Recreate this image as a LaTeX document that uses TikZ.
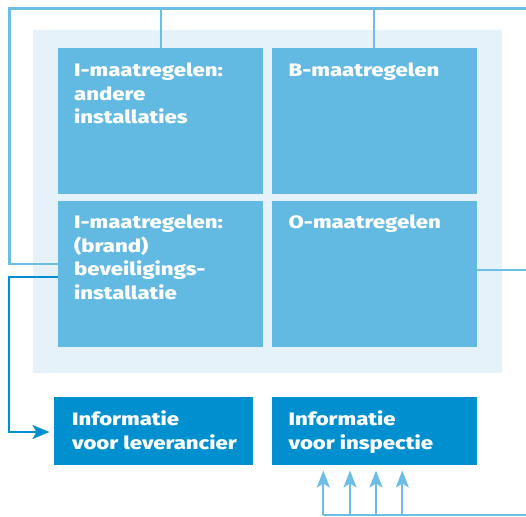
\documentclass[tikz,border=0pt]{standalone}
\usepackage{fontspec}
\usepackage{graphicx}
\setmainfont{Fira Sans}[BoldFont={Fira Sans ExtraBold}]
\usetikzlibrary{arrows.meta}
\definecolor{panelbg}{HTML}{E6F2F9}
\definecolor{boxblue}{HTML}{62B9E1}
\definecolor{darkblue}{HTML}{0090D0}
\definecolor{lineblue}{HTML}{6CBEE5}
\newcommand{\widetext}[1]{\scalebox{1.23}[1]{\fontsize{18}{23.6}\selectfont\bfseries
  \begin{tabular}[t]{@{}l@{}}#1\end{tabular}}}
\tikzset{
  mbox/.style={draw=none, inner sep=0, outer sep=0, anchor=north west},
  mtext/.style={anchor=base west, inner sep=0, text=white},
  lline/.style={draw=lineblue, line width=2.2pt},
  dline/.style={draw=darkblue, line width=2.2pt},
  ltip/.style={-{Stealth[length=17pt,width=13pt,inset=4pt]}},
}
\begin{document}
\begin{tikzpicture}[x=1pt,y=-1pt]
\useasboundingbox (0,0) rectangle (526,516);
% panel
\node[mbox, fill=panelbg, minimum width=469pt, minimum height=343pt] (panel) at (33,30) {};
% boxes
\node[mbox, fill=boxblue, minimum width=205pt, minimum height=146pt] (b1) at (58,48) {};
\node[mbox, fill=boxblue, minimum width=205pt, minimum height=146pt] (b2) at (272,48) {};
\node[mbox, fill=boxblue, minimum width=205pt, minimum height=146pt] (b3) at (58,201) {};
\node[mbox, fill=boxblue, minimum width=205pt, minimum height=146pt] (b4) at (272,201) {};
\node[mbox, fill=darkblue, minimum width=199pt, minimum height=68pt] (b5) at (54,396.5) {};
\node[mbox, fill=darkblue, minimum width=205pt, minimum height=68pt] (b6) at (272,396.5) {};
% texts
\node[mtext] (t1) at (74,76.5) {\widetext{I-maatregelen:\\andere\\installaties}};
\node[mtext] (t2) at (288.5,76.5) {\widetext{B-maatregelen}};
\node[mtext] (t3) at (74,228.5) {\widetext{I-maatregelen:\\(brand)\\beveiligings-\\installatie}};
\node[mtext] (t4) at (288.5,228.5) {\widetext{O-maatregelen}};
\node[mtext] (t5) at (72,425.5) {\widetext{Informatie\\voor leverancier}};
\node[mtext] (t6) at (288.5,425.5) {\widetext{Informatie\\voor inspectie}};
% coordinates for free ends
\coordinate (topL) at (9.5,8.5);
\coordinate (topR) at (526,8.5);
\coordinate (rightR) at (526,270);
\coordinate (botR) at (526,515);
% light connectors
\draw[lline] (topR) -- (topL) |- (b3.west |- 0,264);
\draw[lline] (b1.north -| 161,0) -- (161,8.5);
\draw[lline] (b2.north -| 374,0) -- (374,8.5);
\draw[lline] (b4.east |- 0,270) -- (rightR);
\draw[lline] (botR) -- (323.3,515);
\foreach \xx in {323.3,350,376,402.3}
  \draw[lline, ltip] (\xx,515) -- (\xx,470.5);
% dark connector
\draw[dline, -{Stealth[length=17pt,width=14pt,inset=4pt]}] (b3.west |- 0,277) -- (9.3,277) -- (9.3,432) -- (49.5,432);
\end{tikzpicture}
\end{document}
